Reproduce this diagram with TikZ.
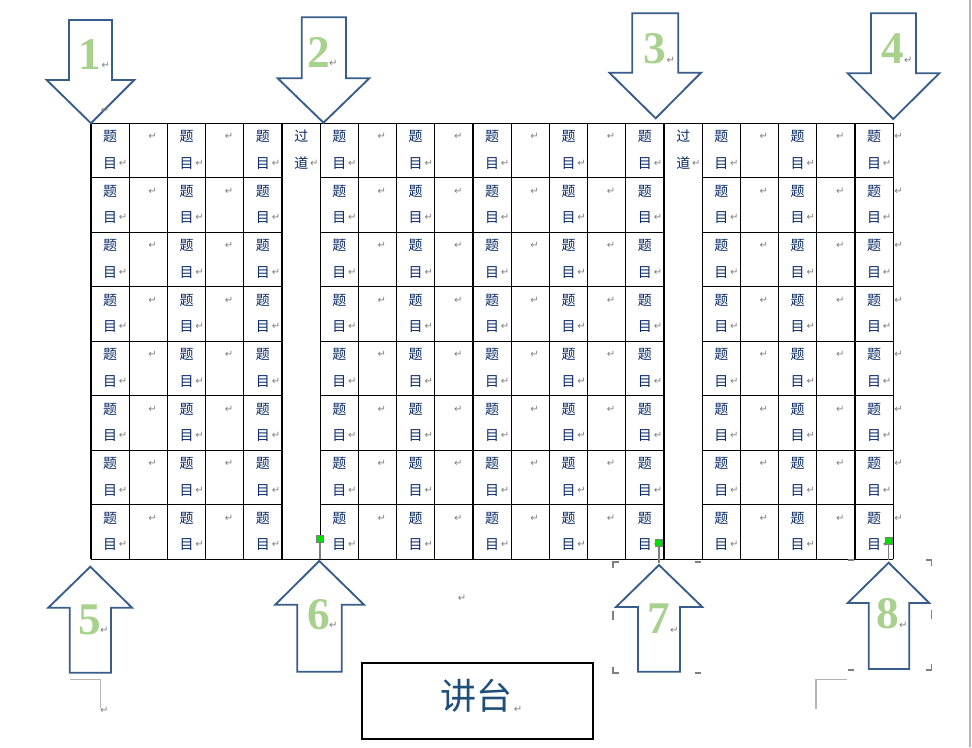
\documentclass[tikz,border=0pt]{standalone}
\usepackage{fontspec}
\setmainfont{Liberation Serif}
\newfontfamily\cjk{Noto Sans CJK SC}
\newfontfamily\dejavu{DejaVu Sans}
\usetikzlibrary{positioning}
\definecolor{seatnavy}{HTML}{0A2A66}
\definecolor{arrowblue}{HTML}{385D8A}
\definecolor{numgreen}{HTML}{A9D18E}
\definecolor{markgray}{HTML}{7F7F7F}
\definecolor{edgegray}{HTML}{B4B4B4}
\definecolor{deskblue}{HTML}{1F4E79}
\definecolor{handlegreen}{HTML}{00E000}
\begin{document}
\begin{tikzpicture}[x=0.75pt,y=-0.75pt]
	    \tikzset{
	      seat/.style={font=\cjk\fontsize{10.5pt}{10.5pt}\selectfont, text=seatnavy, inner sep=0pt},
	      retmark/.style={font=\dejavu\fontsize{7.5pt}{7.5pt}\selectfont, text=markgray, inner sep=0pt},
	      bigarrow/.style={draw=arrowblue, line width=1.4pt, fill=white, line join=miter},
	      num/.style={font=\bfseries\fontsize{34pt}{34pt}\selectfont, text=numgreen, inner sep=0pt},
	      gridline/.style={line width=0.8pt},
	      deskbox/.style={draw, line width=1.5pt, minimum width=173.7pt, minimum height=57pt, inner sep=0pt},
	      handle/.style={fill=handlegreen, draw=markgray, line width=0.3pt, minimum size=5pt, inner sep=0pt},
	      bracket/.style={markgray, line width=0.9pt},
	    }
	    \useasboundingbox (0,0) rectangle (972,747);
	    \draw[edgegray, line width=1pt] (970,0) -- (970,747);
	    % table
	    \foreach \c in {0,...,21}
	      \draw[gridline] ({91+38.2*\c},123.3) -- ({91+38.2*\c},559.3);
	    \draw[gridline] (91,123.3) -- (893.2,123.3);
	    \draw[gridline] (91,559.3) -- (893.2,559.3);
	    \foreach \r in {1,...,7} {
	      \draw[gridline] (91,{123.3+54.5*\r}) -- (282,{123.3+54.5*\r});
	      \draw[gridline] (320.2,{123.3+54.5*\r}) -- (664,{123.3+54.5*\r});
	      \draw[gridline] (702.2,{123.3+54.5*\r}) -- (893.2,{123.3+54.5*\r});
	    }
	    \foreach \r in {0,...,7} {
	      \foreach \c in {0,2,...,20} {
	        \node[seat] (ti-\r-\c) at ({110.1+38.2*\c},{136.5+54.5*\r}) {题};
	        \node[seat] (mu-\r-\c) at ({110.1+38.2*\c},{163.3+54.5*\r}) {目};
	        \node[retmark, right=1pt of mu-\r-\c] (rm-\r-\c) {↵};
	      }
	      \foreach \c in {1,3,7,9,11,13,17,19}
	        \node[retmark] (bl-\r-\c) at ({114.4+38.2*\c},{136.5+54.5*\r}) {↵};
	      \node[retmark] (end-\r) at (898.5,{136.5+54.5*\r}) {↵};
	    }
	    \node[seat] (guo1) at (301.3,136.5) {过};
	    \node[seat] (dao1) at (301.3,163.3) {道};
	    \node[retmark, right=1pt of dao1] (rdao1) {↵};
	    \node[seat] (guo2) at (683.3,136.5) {过};
	    \node[seat] (dao2) at (683.3,163.3) {道};
	    \node[retmark, right=1pt of dao2] (rdao2) {↵};
	    % arrows into the room
	    \draw[bigarrow] (69,20) -- (112,20) -- (112,80) -- (134.3,80) -- (91,123.3) -- (46.7,80) -- (69,80) -- cycle;
	    \draw[bigarrow] (301.7,17.3) -- (346,17.3) -- (346,78.3) -- (369.3,78.3) -- (323.5,122.7) -- (277.7,78.3) -- (301.7,78.3) -- cycle;
	    \draw[bigarrow] (632.3,13.3) -- (678.3,13.3) -- (678.3,72.7) -- (701,72.7) -- (655.7,118.3) -- (609.3,72.7) -- (632.3,72.7) -- cycle;
	    \draw[bigarrow] (871,13.3) -- (916,13.3) -- (916,73.3) -- (939.3,73.3) -- (893.3,119) -- (847.7,73.3) -- (871,73.3) -- cycle;
	    \draw[bigarrow] (69.7,672.7) -- (111,672.7) -- (111,607.7) -- (132,607.7) -- (90.3,566.7) -- (48.3,607.7) -- (69.7,607.7) -- cycle;
	    \draw[bigarrow] (297.3,671.7) -- (341.7,671.7) -- (341.7,604.7) -- (364,604.7) -- (319.3,561) -- (275.3,604.7) -- (297.3,604.7) -- cycle;
	    \draw[bigarrow] (638,671.7) -- (680,671.7) -- (680,607) -- (702.3,607) -- (659,565) -- (616,607) -- (638,607) -- cycle;
	    \draw[bigarrow] (868.7,669) -- (909.3,669) -- (909.3,603) -- (929.3,603) -- (888.7,562.7) -- (847.7,603) -- (868.7,603) -- cycle;
	    \node[num] (n1) at (90,54.7) {1};
	    \node[num] (n2) at (319.3,52.5) {2};
	    \node[num] (n3) at (655,48.3) {3};
	    \node[num] (n4) at (893.3,48.3) {4};
	    \node[num] (n5) at (90,619.5) {5};
	    \node[num] (n6) at (319.3,614.7) {6};
	    \node[num] (n7) at (659.3,618.7) {7};
	    \node[num] (n8) at (888.3,613.3) {8};
	    \node[retmark] (r1) at (105.7,65) {↵};
	    \node[retmark] (r1b) at (105,110) {↵};
	    \node[retmark] (r2) at (333.3,63.3) {↵};
	    \node[retmark] (r3) at (670.7,60) {↵};
	    \node[retmark] (r4) at (908.3,60) {↵};
	    \node[retmark] (r5) at (104.3,630.7) {↵};
	    \node[retmark] (r6) at (333.3,625.7) {↵};
	    \node[retmark] (r7) at (674.3,630) {↵};
	    \node[retmark] (r8) at (903.3,625) {↵};
	    % editor marks
	    \node[retmark] (rmid) at (462,598) {↵};
	    \node[retmark] (rleft) at (104.3,710) {↵};
	    \draw[edgegray, line width=0.8pt] (70,679.3) -- (100.7,679.3) -- (100.7,708);
	    \draw[edgegray, line width=0.8pt] (846.7,679.3) -- (816,679.3) -- (816,709.3);
	    \coordinate (s6) at (320,559.3);
	    \coordinate (s7) at (659,563);
	    \coordinate (s8) at (888.7,560);
	    \node[handle] (g6) at (320,538.5) {};
	    \node[handle] (g7) at (659,543) {};
	    \node[handle] (g8) at (888.7,541) {};
	    \draw[markgray, line width=0.8pt] (g6) -- (s6);
	    \draw[markgray, line width=0.8pt] (g7) -- (s7);
	    \draw[markgray, line width=0.8pt] (g8) -- (s8);
	    \draw[bracket] (613,568) -- (613,562) -- (619,562);
	    \draw[bracket] (695,562) -- (701,562);
	    \draw[bracket] (613,667) -- (613,673) -- (619,673);
	    \draw[bracket] (695,673) -- (701,673);
	    \draw[bracket] (613,611) -- (613,620);
	    \draw[bracket] (847.7,560) -- (853.7,560);
	    \draw[bracket] (925.7,560) -- (931.7,560) -- (931.7,566);
	    \draw[bracket] (847.7,670) -- (853.7,670);
	    \draw[bracket] (931.7,664) -- (931.7,670) -- (925.7,670);
	    \draw[bracket] (931.7,610) -- (931.7,619);
	    % lectern
	    \node[deskbox] (desk) at (477.5,701.3) {};
	    \node[font=\cjk\fontsize{27pt}{27pt}\selectfont, text=deskblue, inner sep=0pt] (desktext) at (476,695.5) {讲台};
	    \node[retmark, right=1pt of desktext.south east, anchor=south west] (rdesk) {↵};
\end{tikzpicture}
\end{document}
